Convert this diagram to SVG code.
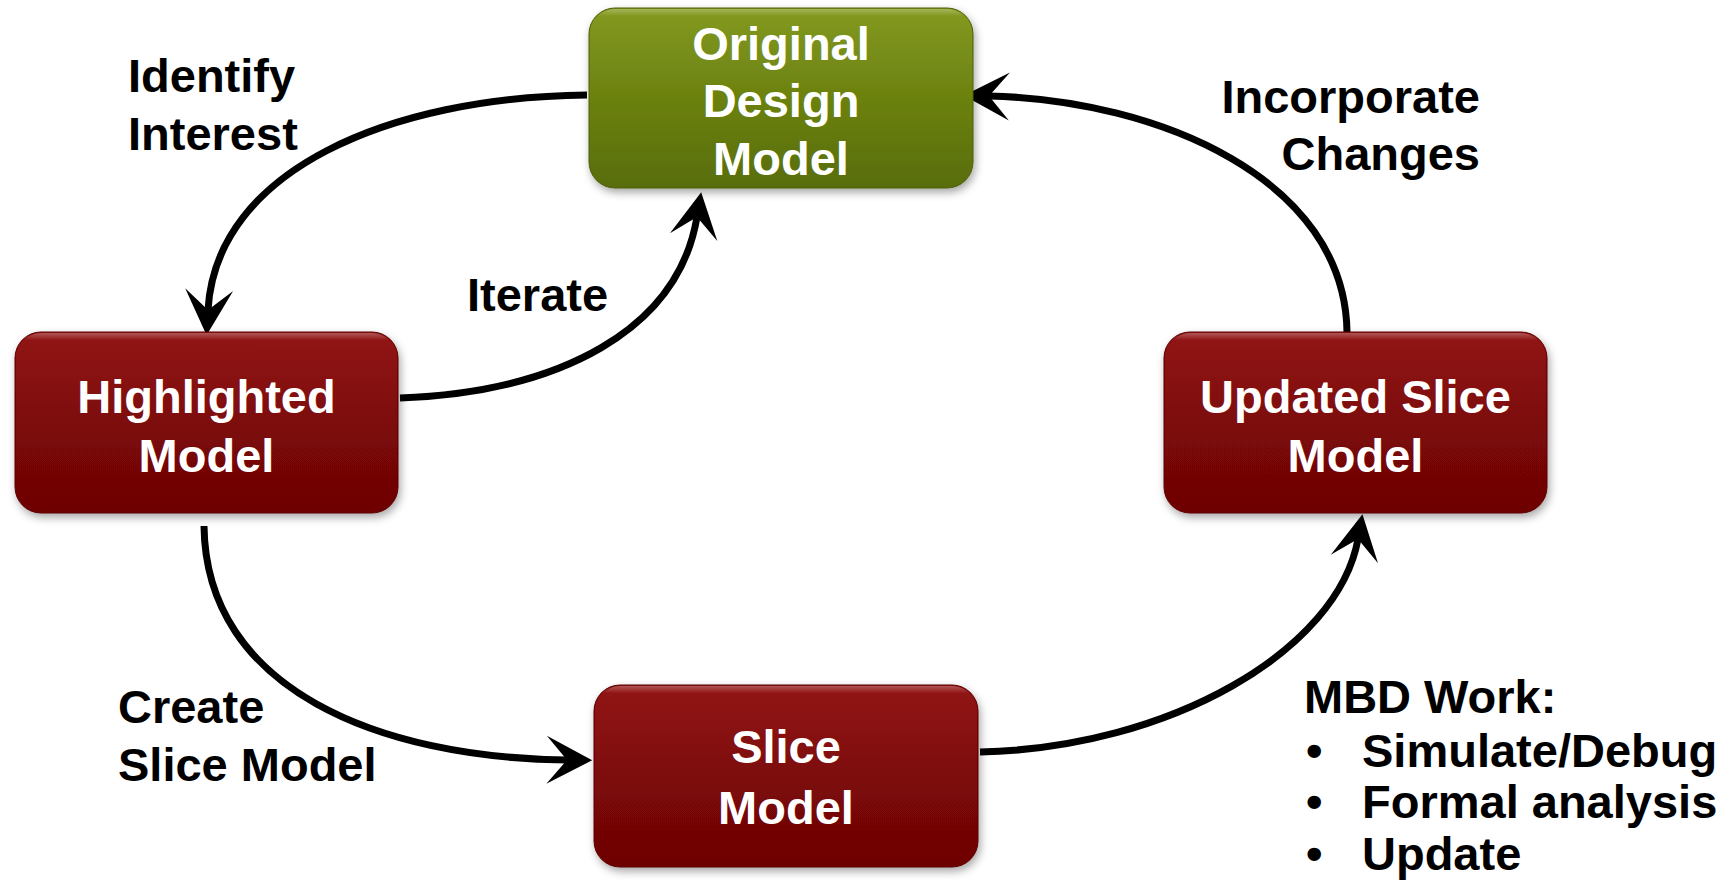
<svg xmlns="http://www.w3.org/2000/svg" width="1730" height="888" viewBox="0 0 1730 888">
  <defs>
    <style>
      .lbl { font-family: "Liberation Sans", Arial, sans-serif; font-weight: bold; font-size: 47px; fill: #000; }
      .ntxt { font-family: "Liberation Sans", Arial, sans-serif; font-weight: bold; font-size: 47px; fill: #fff; text-anchor: middle; }
      .edge { fill: none; stroke: #000; stroke-width: 7; }
      .red { fill: url(#gRed); stroke: #5e0404; stroke-width: 1; filter: url(#shadow); }
      .green { fill: url(#gGreen); stroke: #4d5e08; stroke-width: 1; filter: url(#shadow); }
      .gloss { fill: url(#gGloss); }
    </style>
    <linearGradient id="gRed" x1="0" y1="0" x2="0" y2="1">
      <stop offset="0" stop-color="#8e0a0a"/>
      <stop offset="1" stop-color="#6d0505"/>
    </linearGradient>
    <linearGradient id="gGreen" x1="0" y1="0" x2="0" y2="1">
      <stop offset="0" stop-color="#7f9616"/>
      <stop offset="1" stop-color="#586d0b"/>
    </linearGradient>
    <linearGradient id="gGloss" x1="0" y1="0" x2="0" y2="1">
      <stop offset="0" stop-color="#fff" stop-opacity="0.3"/>
      <stop offset="0.08" stop-color="#fff" stop-opacity="0.03"/>
      <stop offset="1" stop-color="#fff" stop-opacity="0"/>
    </linearGradient>
    <filter id="shadow" x="-10%" y="-10%" width="125%" height="130%">
      <feDropShadow dx="2" dy="4" stdDeviation="4" flood-color="#000" flood-opacity="0.35"/>
    </filter>
    <marker id="arrow" markerUnits="userSpaceOnUse" markerWidth="60" markerHeight="60" viewBox="-20 -25 50 50" refX="0" refY="0" orient="auto">
      <path d="M21,0 L-17,-20 L0,0 L-17,20 Z" fill="#000"/>
    </marker>
  </defs>

  <rect width="1730" height="888" fill="#fff"/>

  <!-- connectors -->
  <g id="connectors">
    <path class="edge" d="M587,95 C390,97 216,170 208,310" marker-end="url(#arrow)"/>
    <path class="edge" d="M400,398 C560,392 678,330 697,217" marker-end="url(#arrow)"/>
    <path class="edge" d="M204,526 C206,690 380,758 567,760" marker-end="url(#arrow)"/>
    <path class="edge" d="M980,752 C1170,748 1338,650 1358,539" marker-end="url(#arrow)"/>
    <path class="edge" d="M1347,332 C1345,180 1160,100 989,96" marker-end="url(#arrow)"/>
  </g>

  <!-- nodes -->
  <g id="node-original">
    <rect class="green" x="589" y="8" width="384" height="180" rx="26"/>
    <rect class="gloss" x="590" y="9" width="382" height="90" rx="25"/>
    <text class="ntxt" x="781" y="60">Original</text>
    <text class="ntxt" x="781" y="117">Design</text>
    <text class="ntxt" x="781" y="175">Model</text>
  </g>

  <g id="node-highlighted">
    <rect class="red" x="15" y="332" width="383" height="181" rx="26"/>
    <rect class="gloss" x="16" y="333" width="381" height="90" rx="25"/>
    <text class="ntxt" x="206.5" y="413">Highlighted</text>
    <text class="ntxt" x="206.5" y="472">Model</text>
  </g>

  <g id="node-updated">
    <rect class="red" x="1164" y="332" width="383" height="181" rx="26"/>
    <rect class="gloss" x="1165" y="333" width="381" height="90" rx="25"/>
    <text class="ntxt" x="1355.5" y="413">Updated Slice</text>
    <text class="ntxt" x="1355.5" y="472">Model</text>
  </g>

  <g id="node-slice">
    <rect class="red" x="594" y="685" width="384" height="182" rx="26"/>
    <rect class="gloss" x="595" y="686" width="382" height="90" rx="25"/>
    <text class="ntxt" x="786" y="763">Slice</text>
    <text class="ntxt" x="786" y="824">Model</text>
  </g>

  <!-- edge labels -->
  <g id="labels">
    <text class="lbl" x="128" y="92">Identify</text>
    <text class="lbl" x="128" y="150">Interest</text>
    <text class="lbl" x="467" y="311">Iterate</text>
    <text class="lbl" x="1480" y="113" text-anchor="end">Incorporate</text>
    <text class="lbl" x="1480" y="170" text-anchor="end">Changes</text>
    <text class="lbl" x="118" y="723">Create</text>
    <text class="lbl" x="118" y="781">Slice Model</text>
  </g>

  <g id="mbd-work">
    <text class="lbl" x="1304" y="713">MBD Work:</text>
    <text class="lbl" x="1306" y="767">•</text>
    <text class="lbl" x="1362" y="767">Simulate/Debug</text>
    <text class="lbl" x="1306" y="818">•</text>
    <text class="lbl" x="1362" y="818">Formal analysis</text>
    <text class="lbl" x="1306" y="870">•</text>
    <text class="lbl" x="1362" y="870">Update</text>
  </g>
</svg>
